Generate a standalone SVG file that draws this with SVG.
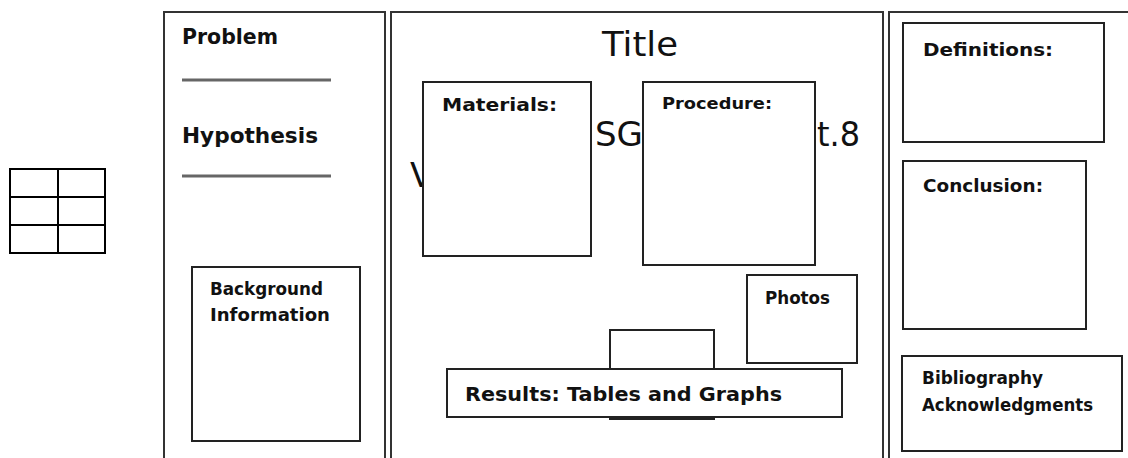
<svg xmlns="http://www.w3.org/2000/svg" width="1128" height="458" viewBox="0 0 1128 458">
<style>
.panel{fill:#fff;stroke:#333;stroke-width:2}
.box{fill:#fff;stroke:#222;stroke-width:2}
.grid{fill:none;stroke:#000;stroke-width:2}
.rule{stroke:#666;stroke-width:3}
.lbl{font-family:"DejaVu Sans","Liberation Sans",sans-serif;font-weight:bold;fill:#111}
.big{font-family:"DejaVu Sans","Liberation Sans",sans-serif;font-weight:normal;fill:#111;font-size:34px}
</style>
<rect width="1128" height="458" fill="#fff"/>
<g id="grid-icon">
<rect class="grid" x="10" y="169" width="95" height="84"/>
<line class="grid" x1="58" y1="169" x2="58" y2="253"/>
<line class="grid" x1="10" y1="197" x2="105" y2="197"/>
<line class="grid" x1="10" y1="225" x2="105" y2="225"/>
</g>
<g id="left-panel">
<rect class="panel" x="164" y="12" width="221" height="470"/>
<text class="lbl" x="182" y="44" font-size="22" textLength="96" lengthAdjust="spacingAndGlyphs">Problem</text>
<line class="rule" x1="182" y1="80" x2="331" y2="80"/>
<text class="lbl" x="182" y="143" font-size="22" textLength="136" lengthAdjust="spacingAndGlyphs">Hypothesis</text>
<line class="rule" x1="182" y1="176" x2="331" y2="176"/>
</g>
<g id="background">
<rect class="box" x="192" y="267" width="168" height="174"/>
<text class="lbl" x="210" y="295" font-size="18" textLength="113" lengthAdjust="spacingAndGlyphs">Background</text>
<text class="lbl" x="210" y="321" font-size="18" textLength="120" lengthAdjust="spacingAndGlyphs">Information</text>
</g>
<g id="center-panel">
<rect class="panel" x="391" y="12" width="492" height="470"/>
<text class="big" x="602" y="56" textLength="76" lengthAdjust="spacingAndGlyphs">Title</text>
<text class="big" x="595" y="146" textLength="48" lengthAdjust="spacingAndGlyphs">SG</text>
<text class="big" x="817" y="146" textLength="43" lengthAdjust="spacingAndGlyphs">t.8</text>
<text class="big" x="410" y="187">V</text>
</g>
<g id="materials">
<rect class="box" x="423" y="82" width="168" height="174"/>
<text class="lbl" x="442" y="111" font-size="18" textLength="115" lengthAdjust="spacingAndGlyphs">Materials:</text>
</g>
<g id="procedure">
<rect class="box" x="643" y="82" width="172" height="183"/>
<text class="lbl" x="662" y="109" font-size="16" textLength="110" lengthAdjust="spacingAndGlyphs">Procedure:</text>
</g>
<g id="photos">
<rect class="box" x="747" y="275" width="110" height="88"/>
<text class="lbl" x="765" y="304" font-size="17" textLength="65" lengthAdjust="spacingAndGlyphs">Photos</text>
</g>
<g id="small-box">
<rect class="box" x="610" y="330" width="104" height="89"/>
</g>
<g id="results">
<rect class="box" x="447" y="369" width="395" height="48"/>
<text class="lbl" x="465" y="401" font-size="19" textLength="317" lengthAdjust="spacingAndGlyphs">Results: Tables and Graphs</text>
</g>
<g id="right-panel">
<rect class="panel" x="889" y="12" width="260" height="470"/>
</g>
<g id="definitions">
<rect class="box" x="903" y="23" width="201" height="119"/>
<text class="lbl" x="923" y="56" font-size="18" textLength="130" lengthAdjust="spacingAndGlyphs">Definitions:</text>
</g>
<g id="conclusion">
<rect class="box" x="903" y="161" width="183" height="168"/>
<text class="lbl" x="923" y="192" font-size="18" textLength="120" lengthAdjust="spacingAndGlyphs">Conclusion:</text>
</g>
<g id="bibliography">
<rect class="box" x="902" y="356" width="220" height="95"/>
<text class="lbl" x="922" y="384" font-size="17" textLength="121" lengthAdjust="spacingAndGlyphs">Bibliography</text>
<text class="lbl" x="922" y="411" font-size="17" textLength="171" lengthAdjust="spacingAndGlyphs">Acknowledgments</text>
</g>
<g id="connectors"></g>
</svg>
